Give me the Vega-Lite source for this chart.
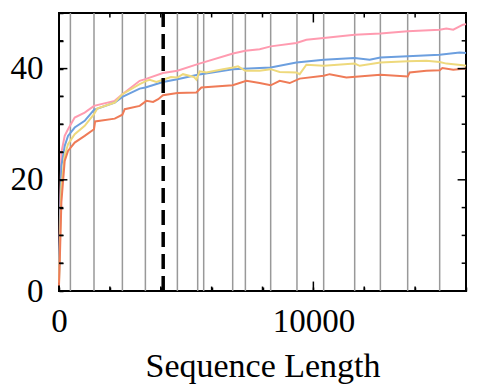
{
  "$schema": "https://vega.github.io/schema/vega-lite/v6.json",
  "width": 407,
  "height": 278,
  "autosize": {"type": "none"},
  "padding": {"left": 59, "top": 13, "right": 13, "bottom": 101},
  "background": "white",
  "config": {
    "font": "Times New Roman",
    "view": {"stroke": "black", "strokeWidth": 2},
    "axis": {"labelFont": "Times New Roman", "titleFont": "Times New Roman"}
  },
  "datasets": {
    "series": [
      {"x": 0, "s": "pink", "y": 3}, {"x": 40, "s": "pink", "y": 14}, {"x": 94, "s": "pink", "y": 24.9}, {"x": 224, "s": "pink", "y": 27.9}, {"x": 354, "s": "pink", "y": 29.1}, {"x": 617, "s": "pink", "y": 31.2}, {"x": 1010, "s": "pink", "y": 32.1}, {"x": 1376, "s": "pink", "y": 33.3}, {"x": 2190, "s": "pink", "y": 34.2}, {"x": 2492, "s": "pink", "y": 35.4}, {"x": 3172, "s": "pink", "y": 37.8}, {"x": 3396, "s": "pink", "y": 38.1}, {"x": 4088, "s": "pink", "y": 39.2}, {"x": 4654, "s": "pink", "y": 39.6}, {"x": 5452, "s": "pink", "y": 40.8}, {"x": 6840, "s": "pink", "y": 42.7}, {"x": 7327, "s": "pink", "y": 43.2}, {"x": 7889, "s": "pink", "y": 43.5}, {"x": 8321, "s": "pink", "y": 44.0}, {"x": 9332, "s": "pink", "y": 44.6}, {"x": 9725, "s": "pink", "y": 45.2}, {"x": 10405, "s": "pink", "y": 45.5}, {"x": 11623, "s": "pink", "y": 46.1}, {"x": 12634, "s": "pink", "y": 46.3}, {"x": 13707, "s": "pink", "y": 46.7}, {"x": 14965, "s": "pink", "y": 47.0}, {"x": 15228, "s": "pink", "y": 47.2}, {"x": 15500, "s": "pink", "y": 47.0}, {"x": 15880, "s": "pink", "y": 47.9}, {"x": 16000, "s": "pink", "y": 48.0},
      {"x": 0, "s": "blue", "y": 2}, {"x": 40, "s": "blue", "y": 11}, {"x": 94, "s": "blue", "y": 22.5}, {"x": 224, "s": "blue", "y": 26.1}, {"x": 354, "s": "blue", "y": 27.9}, {"x": 617, "s": "blue", "y": 29.4}, {"x": 1010, "s": "blue", "y": 30.6}, {"x": 1376, "s": "blue", "y": 32.6}, {"x": 2190, "s": "blue", "y": 33.9}, {"x": 2492, "s": "blue", "y": 34.9}, {"x": 3172, "s": "blue", "y": 36.4}, {"x": 3396, "s": "blue", "y": 36.6}, {"x": 4088, "s": "blue", "y": 37.6}, {"x": 4654, "s": "blue", "y": 38.1}, {"x": 5452, "s": "blue", "y": 38.9}, {"x": 6840, "s": "blue", "y": 39.9}, {"x": 7889, "s": "blue", "y": 40.1}, {"x": 8321, "s": "blue", "y": 40.2}, {"x": 9332, "s": "blue", "y": 41.1}, {"x": 10405, "s": "blue", "y": 41.6}, {"x": 11623, "s": "blue", "y": 41.9}, {"x": 12213, "s": "blue", "y": 41.6}, {"x": 12634, "s": "blue", "y": 42.0}, {"x": 13707, "s": "blue", "y": 42.2}, {"x": 14965, "s": "blue", "y": 42.5}, {"x": 15751, "s": "blue", "y": 42.9}, {"x": 16000, "s": "blue", "y": 42.8},
      {"x": 0, "s": "yellow", "y": 1.5}, {"x": 40, "s": "yellow", "y": 9}, {"x": 94, "s": "yellow", "y": 18.8}, {"x": 224, "s": "yellow", "y": 24.3}, {"x": 354, "s": "yellow", "y": 26.4}, {"x": 617, "s": "yellow", "y": 28.2}, {"x": 1010, "s": "yellow", "y": 29.7}, {"x": 1376, "s": "yellow", "y": 31.8}, {"x": 1500, "s": "yellow", "y": 32.8}, {"x": 2190, "s": "yellow", "y": 33.9}, {"x": 2492, "s": "yellow", "y": 35.4}, {"x": 3172, "s": "yellow", "y": 37.2}, {"x": 3435, "s": "yellow", "y": 37.8}, {"x": 3565, "s": "yellow", "y": 38.0}, {"x": 3829, "s": "yellow", "y": 37.6}, {"x": 4088, "s": "yellow", "y": 38.0}, {"x": 4400, "s": "yellow", "y": 38.5}, {"x": 4654, "s": "yellow", "y": 38.4}, {"x": 4874, "s": "yellow", "y": 39.0}, {"x": 5300, "s": "yellow", "y": 38.5}, {"x": 5400, "s": "yellow", "y": 38.0}, {"x": 5531, "s": "yellow", "y": 39.5}, {"x": 5794, "s": "yellow", "y": 39.3}, {"x": 6447, "s": "yellow", "y": 39.9}, {"x": 6840, "s": "yellow", "y": 40.2}, {"x": 7036, "s": "yellow", "y": 40.4}, {"x": 7327, "s": "yellow", "y": 39.6}, {"x": 7889, "s": "yellow", "y": 39.6}, {"x": 8321, "s": "yellow", "y": 39.9}, {"x": 8676, "s": "yellow", "y": 39.4}, {"x": 9332, "s": "yellow", "y": 39.3}, {"x": 9462, "s": "yellow", "y": 39.0}, {"x": 9725, "s": "yellow", "y": 40.7}, {"x": 10405, "s": "yellow", "y": 40.5}, {"x": 11623, "s": "yellow", "y": 40.9}, {"x": 11820, "s": "yellow", "y": 40.5}, {"x": 12634, "s": "yellow", "y": 41.1}, {"x": 13707, "s": "yellow", "y": 41.3}, {"x": 14442, "s": "yellow", "y": 41.4}, {"x": 14965, "s": "yellow", "y": 41.2}, {"x": 15228, "s": "yellow", "y": 40.9}, {"x": 15880, "s": "yellow", "y": 40.6}, {"x": 16000, "s": "yellow", "y": 40.5},
      {"x": 0, "s": "orange", "y": 1}, {"x": 40, "s": "orange", "y": 7}, {"x": 94, "s": "orange", "y": 16}, {"x": 224, "s": "orange", "y": 23.4}, {"x": 354, "s": "orange", "y": 25.2}, {"x": 617, "s": "orange", "y": 26.7}, {"x": 1010, "s": "orange", "y": 27.9}, {"x": 1376, "s": "orange", "y": 29.1}, {"x": 1420, "s": "orange", "y": 30.5}, {"x": 2190, "s": "orange", "y": 31.0}, {"x": 2492, "s": "orange", "y": 31.7}, {"x": 2583, "s": "orange", "y": 32.7}, {"x": 3172, "s": "orange", "y": 33.3}, {"x": 3435, "s": "orange", "y": 34.2}, {"x": 3700, "s": "orange", "y": 34.0}, {"x": 3900, "s": "orange", "y": 34.5}, {"x": 4088, "s": "orange", "y": 35.2}, {"x": 4654, "s": "orange", "y": 35.6}, {"x": 5400, "s": "orange", "y": 35.7}, {"x": 5597, "s": "orange", "y": 36.6}, {"x": 6828, "s": "orange", "y": 37.0}, {"x": 7366, "s": "orange", "y": 37.8}, {"x": 7889, "s": "orange", "y": 37.4}, {"x": 8321, "s": "orange", "y": 37.0}, {"x": 8676, "s": "orange", "y": 37.8}, {"x": 9069, "s": "orange", "y": 37.4}, {"x": 9462, "s": "orange", "y": 38.2}, {"x": 10405, "s": "orange", "y": 38.7}, {"x": 10641, "s": "orange", "y": 39.0}, {"x": 11297, "s": "orange", "y": 38.4}, {"x": 12634, "s": "orange", "y": 38.9}, {"x": 13707, "s": "orange", "y": 38.6}, {"x": 13786, "s": "orange", "y": 39.3}, {"x": 14442, "s": "orange", "y": 39.6}, {"x": 14965, "s": "orange", "y": 39.7}, {"x": 15071, "s": "orange", "y": 40.1}, {"x": 15500, "s": "orange", "y": 39.8}, {"x": 16000, "s": "orange", "y": 40.0}
    ],
    "bounds": [
      {"x": 448}, {"x": 1376}, {"x": 2492}, {"x": 3396}, {"x": 4654}, {"x": 5452}, {"x": 5688}, {"x": 6828}, {"x": 7327}, {"x": 8321}, {"x": 9355}, {"x": 10405}, {"x": 11624}, {"x": 12634}, {"x": 13707}, {"x": 14965}
    ],
    "marker": [{"x": 4096}],
    "xminor": [{"v": 2000}, {"v": 4000}, {"v": 6000}, {"v": 8000}, {"v": 12000}, {"v": 14000}],
    "xmajor": [{"v": 10000}],
    "yminor": [{"v": 5}, {"v": 10}, {"v": 15}, {"v": 25}, {"v": 30}, {"v": 35}, {"v": 45}],
    "ymajor": [{"v": 20}, {"v": 40}]
  },
  "resolve": {"axis": {"x": "independent", "y": "independent"}},
  "layer": [
    {
      "data": {"name": "bounds"},
      "mark": {"type": "rule", "color": "#999999", "strokeWidth": 1.5},
      "encoding": {
        "x": {
          "field": "x", "type": "quantitative",
          "scale": {"domain": [0, 16000], "nice": false},
          "axis": {
            "orient": "bottom",
            "title": "Sequence Length",
            "values": [0, 2000, 4000, 6000, 8000, 10000, 12000, 14000, 16000],
            "format": "d",
            "labelExpr": "datum.value % 10000 === 0 ? datum.label : ''",
            "grid": false, "domain": false, "ticks": true, "tickColor": "black", "tickWidth": 1.5, "tickSize": -4, "zindex": 1,
            "labelFont": "Times New Roman", "labelFontSize": 33, "labelColor": "black",
            "titleFont": "Times New Roman", "titleFontSize": 34, "titleFontWeight": "normal", "titleColor": "black",
            "labelPadding": 18,
            "labelFlush": false,
            "labelOverlap": false,
            "titlePadding": 11
          }
        },
        "y": {"datum": 0, "type": "quantitative", "scale": {"domain": [0, 50], "nice": false}, "axis": {
            "orient": "left",
            "title": null,
            "values": [0, 5, 10, 15, 20, 25, 30, 35, 40, 45, 50],
            "labelExpr": "datum.value % 20 === 0 ? datum.label : ''",
            "grid": false, "domain": false, "ticks": true, "tickColor": "black", "tickWidth": 1.5, "tickSize": -4, "zindex": 1,
            "labelFont": "Times New Roman", "labelFontSize": 33, "labelColor": "black",
            "labelPadding": 20,
            "labelFlush": false,
            "labelOverlap": false
          }},
        "y2": {"datum": 50}
      }
    },
    {
      "data": {"name": "series"},
      "mark": {"type": "line", "strokeWidth": 2},
      "encoding": {
        "x": {"field": "x", "type": "quantitative", "scale": {"domain": [0, 16000], "nice": false}, "axis": null},
        "y": {"field": "y", "type": "quantitative", "scale": {"domain": [0, 50], "nice": false}, "axis": null},
        "color": {
          "field": "s", "type": "nominal",
          "scale": {"domain": ["pink", "blue", "yellow", "orange"], "range": ["#FF9BB0", "#6C9FDF", "#EED97C", "#EF7B57"]},
          "legend": null
        }
      }
    },
    {
      "data": {"name": "marker"},
      "mark": {"type": "rule", "color": "black", "strokeWidth": 3.5, "strokeDash": [15, 7]},
      "encoding": {
        "x": {"field": "x", "type": "quantitative", "scale": {"domain": [0, 16000], "nice": false}, "axis": null},
        "y": {"datum": 0, "type": "quantitative", "scale": {"domain": [0, 50], "nice": false}, "axis": null},
        "y2": {"datum": 50}
      }
    },
    {
      "data": {"name": "xminor"},
      "mark": {"type": "rule", "color": "black", "strokeWidth": 1.5},
      "encoding": {
        "x": {"field": "v", "type": "quantitative", "scale": {"domain": [0, 16000], "nice": false}, "axis": null},
        "y": {"datum": 0, "type": "quantitative", "scale": {"domain": [0, 50], "nice": false}, "axis": null},
        "y2": {"datum": 0.8}
      }
    },
    {
      "data": {"name": "xminor"},
      "mark": {"type": "rule", "color": "black", "strokeWidth": 1.5},
      "encoding": {
        "x": {"field": "v", "type": "quantitative", "scale": {"domain": [0, 16000], "nice": false}, "axis": null},
        "y": {"datum": 50, "type": "quantitative", "scale": {"domain": [0, 50], "nice": false}, "axis": null},
        "y2": {"datum": 49.2}
      }
    },
    {
      "data": {"name": "xmajor"},
      "mark": {"type": "rule", "color": "black", "strokeWidth": 1.5},
      "encoding": {
        "x": {"field": "v", "type": "quantitative", "scale": {"domain": [0, 16000], "nice": false}, "axis": null},
        "y": {"datum": 0, "type": "quantitative", "scale": {"domain": [0, 50], "nice": false}, "axis": null},
        "y2": {"datum": 1.7}
      }
    },
    {
      "data": {"name": "xmajor"},
      "mark": {"type": "rule", "color": "black", "strokeWidth": 1.5},
      "encoding": {
        "x": {"field": "v", "type": "quantitative", "scale": {"domain": [0, 16000], "nice": false}, "axis": null},
        "y": {"datum": 50, "type": "quantitative", "scale": {"domain": [0, 50], "nice": false}, "axis": null},
        "y2": {"datum": 48.3}
      }
    },
    {
      "data": {"name": "yminor"},
      "mark": {"type": "rule", "color": "black", "strokeWidth": 1.5},
      "encoding": {
        "y": {"field": "v", "type": "quantitative", "scale": {"domain": [0, 50], "nice": false}, "axis": null},
        "x": {"datum": 0, "type": "quantitative", "scale": {"domain": [0, 16000], "nice": false}, "axis": null},
        "x2": {"datum": 170}
      }
    },
    {
      "data": {"name": "yminor"},
      "mark": {"type": "rule", "color": "black", "strokeWidth": 1.5},
      "encoding": {
        "y": {"field": "v", "type": "quantitative", "scale": {"domain": [0, 50], "nice": false}, "axis": null},
        "x": {"datum": 16000, "type": "quantitative", "scale": {"domain": [0, 16000], "nice": false}, "axis": null},
        "x2": {"datum": 15830}
      }
    },
    {
      "data": {"name": "ymajor"},
      "mark": {"type": "rule", "color": "black", "strokeWidth": 1.5},
      "encoding": {
        "y": {"field": "v", "type": "quantitative", "scale": {"domain": [0, 50], "nice": false}, "axis": null},
        "x": {"datum": 0, "type": "quantitative", "scale": {"domain": [0, 16000], "nice": false}, "axis": null},
        "x2": {"datum": 330}
      }
    },
    {
      "data": {"name": "ymajor"},
      "mark": {"type": "rule", "color": "black", "strokeWidth": 1.5},
      "encoding": {
        "y": {"field": "v", "type": "quantitative", "scale": {"domain": [0, 50], "nice": false}, "axis": null},
        "x": {"datum": 16000, "type": "quantitative", "scale": {"domain": [0, 16000], "nice": false}, "axis": null},
        "x2": {"datum": 15670}
      }
    }
  ]
}
